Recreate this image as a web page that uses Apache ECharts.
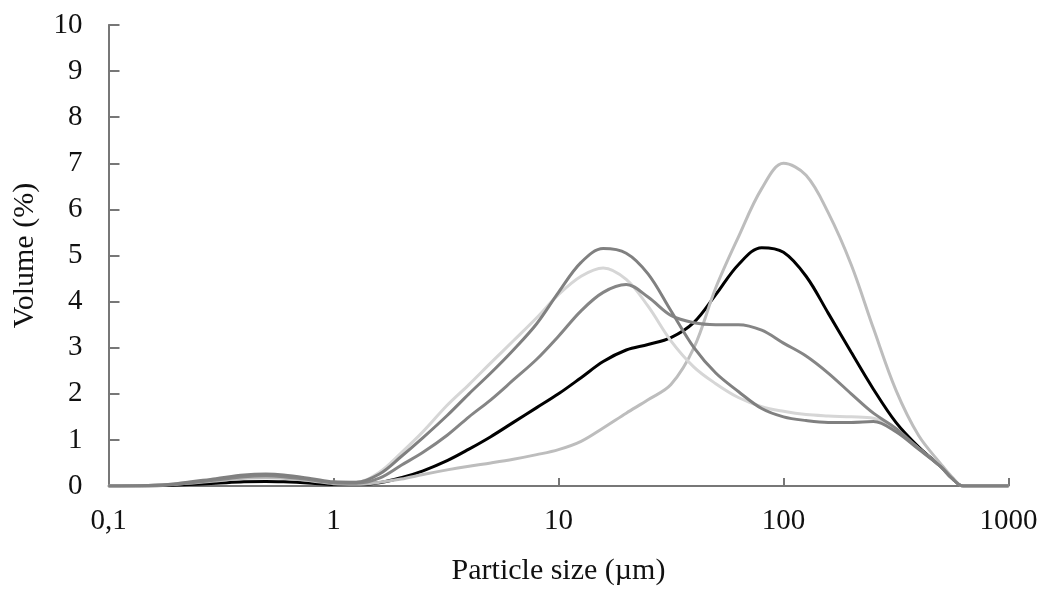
<!DOCTYPE html>
<html>
<head>
<meta charset="utf-8">
<script src="https://cdn.jsdelivr.net/npm/echarts@6/dist/echarts.min.js"></script>
<style>
  html, body { margin: 0; padding: 0; background: #fff; }
  #chart { width: 1049px; height: 597px; }
</style>
</head>
<body>
<div id="chart"></div>
<script>
// particle sizes (µm), shared by all curves
var sizes = [0.1, 0.15, 0.2, 0.3, 0.4, 0.5, 0.6, 0.8, 1, 1.26,
  1.6, 2, 2.5, 3.2, 4, 5, 6.3, 8, 10,
  12.6, 15.8, 20, 25, 31.6, 40, 50, 63, 80, 100,
  126, 158, 200, 251, 316, 398, 500, 560, 630, 1000]

// volume (%) per curve
var blackVals = [0, 0, 0.02, 0.06, 0.09, 0.1, 0.09, 0.06, 0.03, 0.03,
  0.07, 0.18, 0.33, 0.55, 0.8, 1.07, 1.38, 1.7, 2.0,
  2.35, 2.7, 2.95, 3.07, 3.22, 3.55, 4.15, 4.8, 5.17, 5.07,
  4.55, 3.75, 2.9, 2.1, 1.38, 0.85, 0.42, 0.17, 0, 0]
var lightLowVals = [0, 0.01, 0.04, 0.11, 0.17, 0.18, 0.17, 0.11, 0.05, 0.04,
  0.08, 0.15, 0.25, 0.35, 0.43, 0.5, 0.58, 0.68, 0.79,
  0.97, 1.26, 1.58, 1.87, 2.2, 3.0, 4.3, 5.4, 6.45, 7.0,
  6.74, 5.93, 4.8, 3.42, 2.08, 1.1, 0.48, 0.2, 0, 0]
var lightHighVals = [0, 0.01, 0.05, 0.14, 0.22, 0.24, 0.22, 0.14, 0.08, 0.08,
  0.3, 0.72, 1.18, 1.75, 2.2, 2.67, 3.15, 3.65, 4.15,
  4.55, 4.73, 4.48, 3.9, 3.15, 2.58, 2.22, 1.92, 1.72, 1.62,
  1.55, 1.52, 1.5, 1.47, 1.2, 0.82, 0.42, 0.17, 0, 0]
var grayPeakVals = [0, 0.01, 0.05, 0.16, 0.24, 0.26, 0.24, 0.16, 0.09, 0.08,
  0.26, 0.64, 1.05, 1.53, 2.0, 2.45, 2.95, 3.52, 4.2,
  4.85, 5.15, 5.05, 4.6, 3.8, 3.0, 2.45, 2.05, 1.68, 1.5,
  1.42, 1.38, 1.38, 1.4, 1.18, 0.8, 0.42, 0.17, 0, 0]
var grayBroadVals = [0, 0.01, 0.04, 0.13, 0.2, 0.22, 0.2, 0.13, 0.07, 0.06,
  0.17, 0.45, 0.73, 1.1, 1.5, 1.87, 2.3, 2.75, 3.25,
  3.8, 4.2, 4.37, 4.1, 3.7, 3.54, 3.5, 3.5, 3.38, 3.1,
  2.82, 2.45, 2.0, 1.58, 1.25, 0.82, 0.42, 0.17, 0, 0]

function pairs(vals) {
  return sizes.map(function (s, i) { return [s, vals[i]] })
}

function curve(vals, color) {
  return {
    type: 'line',
    data: pairs(vals),
    smooth: 0.35,
    symbol: 'none',
    lineStyle: { color: color, width: 3 },
    itemStyle: { color: color }
  }
}

var font = 'Liberation Serif, Times New Roman, serif'
var axisColor = '#777777'

var chart = echarts.init(document.getElementById('chart'))
chart.setOption({
  animation: false,
  grid: { left: 108.5, right: 40.5, top: 25, bottom: 111, containLabel: false },
  xAxis: {
    type: 'log',
    logBase: 10,
    min: 0.1,
    max: 1000,
    name: 'Particle size (µm)',
    nameLocation: 'middle',
    nameGap: 70,
    nameTextStyle: { fontFamily: font, fontSize: 30, color: '#111' },
    axisLine: { lineStyle: { color: axisColor, width: 2 } },
    axisTick: { inside: true, length: 8, lineStyle: { color: axisColor, width: 2 } },
    axisLabel: {
      margin: 21,
      fontFamily: font,
      fontSize: 29,
      color: '#111',
      formatter: function (v) { return String(v).replace('.', ',') }
    },
    splitLine: { show: false },
    minorTick: { show: false }
  },
  yAxis: {
    type: 'value',
    min: 0,
    max: 10,
    interval: 1,
    name: 'Volume (%)',
    nameLocation: 'middle',
    nameGap: 68,
    nameTextStyle: { fontFamily: font, fontSize: 30, color: '#111' },
    axisLine: { show: true, lineStyle: { color: axisColor, width: 2 } },
    axisTick: { show: true, inside: true, length: 11, lineStyle: { color: axisColor, width: 2 } },
    axisLabel: { margin: 26, fontFamily: font, fontSize: 29, color: '#111' },
    splitLine: { show: false }
  },
  series: [
    curve(blackVals, '#000000'),
    curve(lightLowVals, '#bdbdbd'),
    curve(lightHighVals, '#d6d6d6'),
    curve(grayBroadVals, '#858585'),
    curve(grayPeakVals, '#808080')
  ]
})
</script>
</body>
</html>
